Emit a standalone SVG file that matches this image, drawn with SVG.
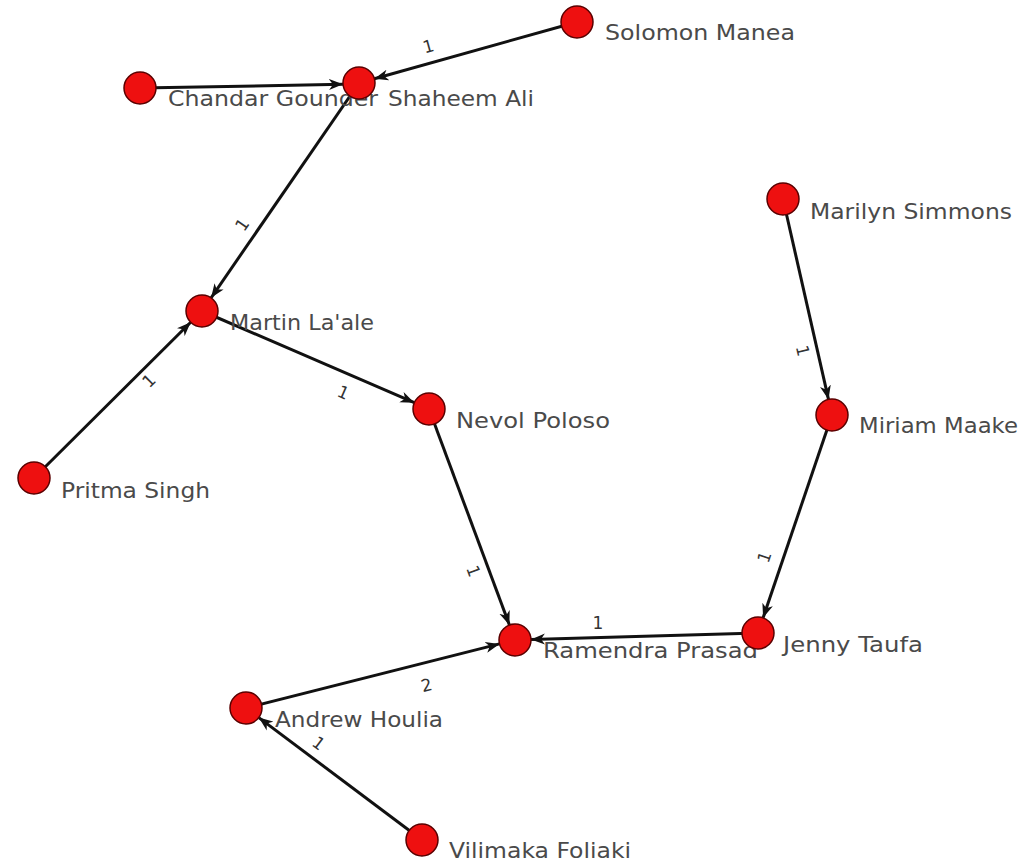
<svg xmlns="http://www.w3.org/2000/svg" width="1036" height="862" viewBox="0 0 1036 862">
<style>
.bg{fill:#ffffff}
.edge{stroke:#111;stroke-width:3;fill:none;marker-end:url(#arr)}
.node{fill:#ee1010;stroke:#5a0000;stroke-width:1.5}
.lbl{font-family:"DejaVu Sans",sans-serif;font-size:21px;fill:#4a4a4a}
.el{font-family:"DejaVu Sans",sans-serif;font-size:17px;fill:#333;text-anchor:middle}
</style>
<defs>
<marker id="arr" markerWidth="16" markerHeight="12" refX="14" refY="6" orient="auto" markerUnits="userSpaceOnUse">
<path d="M14,6 L0,0.5 L4,6 L0,11.5 Z" fill="#111"/>
</marker>
</defs>
<rect class="bg" x="0" y="0" width="1036" height="862"/>
<g id="edges">
<line class="edge" x1="577" y1="22" x2="374.4" y2="78.7"/>
<line class="edge" x1="140" y1="88" x2="343" y2="84.3"/>
<line class="edge" x1="359" y1="83" x2="211.1" y2="297.8"/>
<line class="edge" x1="34" y1="478" x2="190.7" y2="322.3"/>
<line class="edge" x1="202" y1="311" x2="414.3" y2="402.7"/>
<line class="edge" x1="429" y1="409" x2="509.4" y2="625"/>
<line class="edge" x1="758" y1="633" x2="531" y2="639.5"/>
<line class="edge" x1="246" y1="708" x2="499.5" y2="643.9"/>
<line class="edge" x1="422" y1="840" x2="258.8" y2="717.6"/>
<line class="edge" x1="783" y1="199" x2="828.5" y2="399.4"/>
<line class="edge" x1="832" y1="415" x2="763.1" y2="617.8"/>
<text class="el" transform="translate(430,52) rotate(-15.6)">1</text>
<text class="el" transform="translate(247,228) rotate(-55.5)">1</text>
<text class="el" transform="translate(153,385) rotate(-44.8)">1</text>
<text class="el" transform="translate(341,398) rotate(23.4)">1</text>
<text class="el" transform="translate(468,573) rotate(69.6)">1</text>
<text class="el" transform="translate(598,629)">1</text>
<text class="el" transform="translate(428,691) rotate(-14.2)">2</text>
<text class="el" transform="translate(315,748) rotate(36.9)">1</text>
<text class="el" transform="translate(797,352) rotate(77)">1</text>
<text class="el" transform="translate(770,559) rotate(-71.3)">1</text>
</g>
<g id="n-solomon"><circle class="node" cx="577" cy="22" r="16"/><text class="lbl" x="605" y="40" textLength="190" lengthAdjust="spacingAndGlyphs">Solomon Manea</text></g>
<g id="n-chandar"><circle class="node" cx="140" cy="88" r="16"/><text class="lbl" x="168" y="106" textLength="210" lengthAdjust="spacingAndGlyphs">Chandar Gounder</text></g>
<g id="n-shaheem"><circle class="node" cx="359" cy="83" r="16"/><text class="lbl" x="388" y="106" textLength="146" lengthAdjust="spacingAndGlyphs">Shaheem Ali</text></g>
<g id="n-martin"><circle class="node" cx="202" cy="311" r="16"/><text class="lbl" x="230" y="330" textLength="144" lengthAdjust="spacingAndGlyphs">Martin La'ale</text></g>
<g id="n-pritma"><circle class="node" cx="34" cy="478" r="16"/><text class="lbl" x="61" y="498" textLength="149" lengthAdjust="spacingAndGlyphs">Pritma Singh</text></g>
<g id="n-nevol"><circle class="node" cx="429" cy="409" r="16"/><text class="lbl" x="456" y="428" textLength="154" lengthAdjust="spacingAndGlyphs">Nevol Poloso</text></g>
<g id="n-marilyn"><circle class="node" cx="783" cy="199" r="16"/><text class="lbl" x="810" y="219" textLength="202" lengthAdjust="spacingAndGlyphs">Marilyn Simmons</text></g>
<g id="n-miriam"><circle class="node" cx="832" cy="415" r="16"/><text class="lbl" x="859" y="433" textLength="159" lengthAdjust="spacingAndGlyphs">Miriam Maake</text></g>
<g id="n-ramendra"><circle class="node" cx="515" cy="640" r="16"/><text class="lbl" x="543" y="658" textLength="215" lengthAdjust="spacingAndGlyphs">Ramendra Prasad</text></g>
<g id="n-jenny"><circle class="node" cx="758" cy="633" r="16"/><text class="lbl" x="783" y="652" textLength="140" lengthAdjust="spacingAndGlyphs">Jenny Taufa</text></g>
<g id="n-andrew"><circle class="node" cx="246" cy="708" r="16"/><text class="lbl" x="275" y="727" textLength="168" lengthAdjust="spacingAndGlyphs">Andrew Houlia</text></g>
<g id="n-vilimaka"><circle class="node" cx="422" cy="840" r="16"/><text class="lbl" x="449" y="858" textLength="182" lengthAdjust="spacingAndGlyphs">Vilimaka Foliaki</text></g>
</svg>
